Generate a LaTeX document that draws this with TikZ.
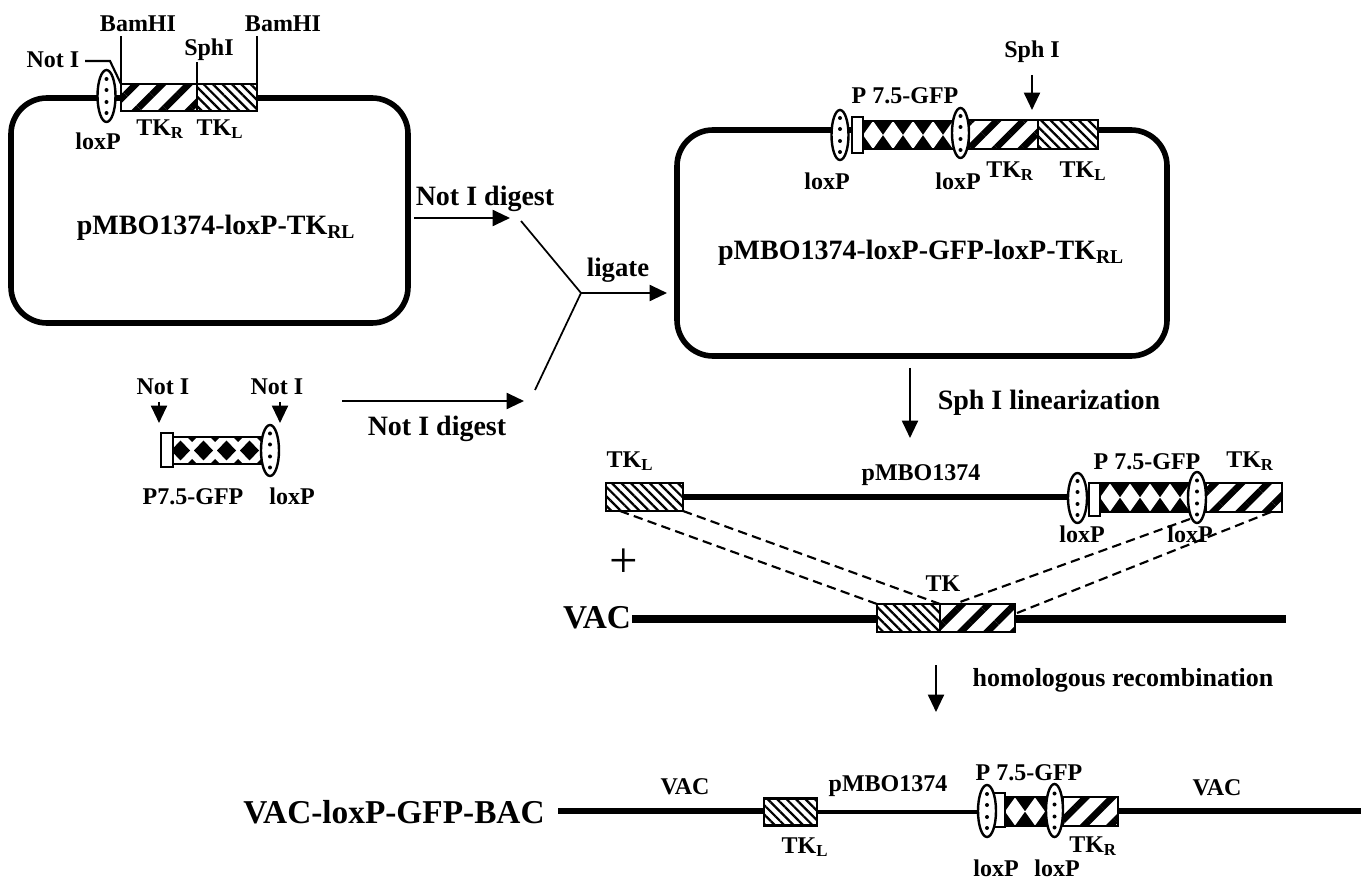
\documentclass[tikz,border=0pt]{standalone}
\usepackage{fontspec}
\setmainfont{Liberation Serif}
\usepackage{tikz}
\usetikzlibrary{arrows.meta,positioning,shapes.geometric,calc,patterns.meta}

\begin{document}
\begin{tikzpicture}[
  x=0.75pt, y=-0.75pt,
  sz/.style 2 args={minimum width=#1*0.75pt, minimum height=#2*0.75pt},
  lbl/.style={inner sep=0pt, yshift=-1pt, font=\bfseries\fontsize{18}{20}\selectfont},
  title/.style={inner sep=0pt, yshift=-2pt, font=\bfseries\fontsize{21}{24}\selectfont},
  big/.style={inner sep=0pt, font=\bfseries\fontsize{25}{28}\selectfont},
  plasmid/.style={rectangle, draw, line width=4.2pt, rounded corners=27pt, inner sep=0pt, outer sep=0pt},
  gene/.style={rectangle, draw, line width=2.2pt, inner sep=0pt, outer sep=0pt, anchor=west},
  tkr/.style={gene, preaction={fill=white}, pattern={Lines[angle=45,distance=14pt,line width=5pt]}},
  tkl/.style={gene, preaction={fill=white}, pattern={Lines[angle=-45,distance=5pt,line width=1.7pt]}},
  prom/.style={gene, fill=white, line width=1.6pt},
  loxp/.style={ellipse, draw, line width=1.8pt, fill=white, inner sep=0pt, outer sep=0pt,
    path picture={\foreach \d in {-17,-6,6,17}
      \fill[black] ($(path picture bounding box.center)+(0,\d)$) circle (2);}},
  gfp/.style 2 args={gene, fill=black,
    path picture={\foreach \k in {0,...,9}
      \fill[white] ($(path picture bounding box.west)+(#1/2+\k*#1,0)$)
        +(-#1/2,0) -- +(0,-#2) -- +(#1/2,0) -- +(0,#2) -- cycle;}},
  gfpdot/.style={gene, fill=white,
    path picture={\foreach \k in {0,...,4}{
      \fill[black] ($(path picture bounding box.west)+(11.5+\k*23-4,0)$)
        +(-9.5,0) -- +(0,-10) -- +(9.5,0) -- +(0,10) -- cycle;
      \fill[black] ($(path picture bounding box.north west)+(23+\k*23-4,0)$)
        +(-5,0) -- +(0,5) -- +(5,0) -- cycle;
      \fill[black] ($(path picture bounding box.south west)+(23+\k*23-4,0)$)
        +(-5,0) -- +(0,-5) -- +(5,0) -- cycle;}}},
  dna/.style={line width=5pt},
  site/.style={line width=1.6pt},
  wire/.style={line width=1.3pt},
  arrow/.style={-{Triangle[length=13pt,width=12pt]}, line width=1.5pt},
  homology/.style={dash pattern=on 7pt off 4pt, line width=1.6pt}
]
\useasboundingbox (0,0) rectangle (1361,880);

% pMBO1374-loxP-TKRL
\node[plasmid, sz={397}{225}] (plasA) at (209.5,210.5) {};
\node[tkr, sz={76}{27}] (tkRa) at (121,97.5) {};
\node[tkl, sz={60}{27}] (tkLa) at (197,97.5) {};
\node[loxp, sz={18}{52}] (loxA) at (106.5,96) {};
\coordinate (bamA) at (121,36);
\coordinate (bamB) at (257,36);
\coordinate (sphA) at (197,62);
\coordinate (notA) at (85,61);
\coordinate (notB) at (110,61);
\draw[site] (tkRa.north west) -- (bamA);
\draw[site] (tkLa.north east) -- (bamB);
\draw[site] (tkLa.north west) -- (sphA);
\draw[site] (tkRa.north west) -- (notB) -- (notA);
\node[lbl] (bamAl) at (138,22) {BamHI};
\node[lbl] (bamBl) at (283,22) {BamHI};
\node[lbl] (sphAl) at (209,48) {SphI};
\node[lbl] (notAl) at (53,58) {Not I};
\node[lbl] (loxAl) at (98,140) {loxP};
\node[lbl] (tkRal) at (160,128) {TK\textsubscript{R}};
\node[lbl] (tkLal) at (220,128) {TK\textsubscript{L}};
\node[title] (plasAl) at (216,225) {pMBO1374-loxP-TK\textsubscript{RL}};

% P7.5-GFP fragment
\node[gfpdot, sz={90}{27}] (gfpF) at (173,450.5) {};
\node[prom, sz={12}{34}] (promF) at (161,450) {};
\node[loxp, sz={18}{51}] (loxF) at (270,450.5) {};
\coordinate (notFa) at (159,402);
\coordinate (notFb) at (159,423);
\coordinate (notFc) at (280,402);
\coordinate (notFd) at (280,423);
\draw[arrow] (notFa) -- (notFb);
\draw[arrow] (notFc) -- (notFd);
\node[lbl] (notFal) at (163,385) {Not I};
\node[lbl] (notFcl) at (277,385) {Not I};
\node[lbl] (gfpFl) at (193,495) {P7.5-GFP};
\node[lbl] (loxFl) at (292,495) {loxP};

% digest and ligation
\coordinate (digA) at (414,218);
\coordinate (digB) at (510,218);
\coordinate (digC) at (342,401);
\coordinate (digD) at (524,401);
\coordinate (armA) at (521,221);
\coordinate (armB) at (535,390);
\coordinate (join) at (581,293);
\coordinate (ligate) at (667,293);
\draw[arrow] (digA) -- (digB);
\draw[arrow] (digC) -- (digD);
\draw[wire] (armA) -- (join) -- (armB);
\draw[arrow] (join) -- (ligate);
\node[title] (digAl) at (485,196) {Not I digest};
\node[title] (digCl) at (437,426) {Not I digest};
\node[title, font=\bfseries\fontsize{20}{22}\selectfont] (ligatel) at (618,268) {ligate};

% pMBO1374-loxP-GFP-loxP-TKRL
\node[plasmid, sz={490}{226}] (plasB) at (922,243) {};
\node[gfp={20}{14}, sz={97}{28}] (gfpB) at (863,135) {};
\node[prom, sz={11}{36}] (promB) at (852,135) {};
\node[tkr, sz={69}{29}] (tkRb) at (969,134.5) {};
\node[tkl, sz={60}{29}] (tkLb) at (1038,134.5) {};
\node[loxp, sz={17}{50}] (loxBa) at (840,135) {};
\node[loxp, sz={17}{50}] (loxBb) at (960.5,133) {};
\coordinate (sphB) at (1032,75);
\coordinate (sphC) at (1032,110);
\draw[arrow] (sphB) -- (sphC);
\node[lbl] (sphBl) at (1032,50) {Sph I};
\node[lbl] (gfpBl) at (905,94) {P 7.5-GFP};
\node[lbl] (loxBal) at (827,180) {loxP};
\node[lbl] (loxBbl) at (958,180) {loxP};
\node[lbl] (tkRbl) at (1010,170) {TK\textsubscript{R}};
\node[lbl] (tkLbl) at (1083,170) {TK\textsubscript{L}};
\node[title] (plasBl) at (921,250) {pMBO1374-loxP-GFP-loxP-TK\textsubscript{RL}};

\coordinate (linA) at (910,368);
\coordinate (linB) at (910,438);
\draw[arrow] (linA) -- (linB);
\node[title] (linl) at (1049,400) {Sph I linearization};

% linear construct
\node[tkl, sz={77}{28}] (tkLc) at (606,497) {};
\node[gfp={20}{14}, sz={90}{29}] (gfpC) at (1100,497.5) {};
\node[tkr, sz={76}{29}] (tkRc) at (1206,497.5) {};
\node[prom, sz={11}{33}] (promC) at (1089,499.5) {};
\node[loxp, sz={19}{50}] (loxCa) at (1077.5,498) {};
\node[loxp, sz={18}{51}] (loxCb) at (1197,497.5) {};
\draw[dna] (tkLc.east) -- (tkLc.east -| loxCa.west);
\node[lbl] (tkLcl) at (630,460) {TK\textsubscript{L}};
\node[lbl] (pmbCl) at (921,474) {pMBO1374};
\node[lbl] (gfpCl) at (1147,460) {P 7.5-GFP};
\node[lbl] (tkRcl) at (1250,460) {TK\textsubscript{R}};
\node[lbl] (loxCal) at (1082,533) {loxP};
\node[lbl] (loxCbl) at (1190,533) {loxP};
\node[inner sep=0pt, font=\fontsize{38}{40}\selectfont] (plus) at (624,563) {+};

% VAC
\coordinate (vacA) at (632,618.5);
\coordinate (vacB) at (1286,618.5);
\draw[dna, line width=6pt] (vacA) -- (vacB);
\node[tkl, sz={63}{28}] (tkLd) at (877,618) {};
\node[tkr, sz={75}{28}] (tkRd) at (940,618) {};
\node[big] (vacl) at (597,618) {VAC};
\node[lbl] (tkdl) at (943,582) {TK};
\coordinate (dashA) at (1271,512);
\coordinate (dashB) at (1190,519);
\coordinate (dashC) at (1017,613);
\coordinate (dashD) at (960,602);
\coordinate (dashE) at (620,511);
\draw[homology] (dashE) -- (tkLd.north west);
\draw[homology] (tkLc.south east) -- (tkLd.north east);
\draw[homology] (dashA) -- (dashC);
\draw[homology] (dashB) -- (dashD);

\coordinate (recA) at (936,665);
\coordinate (recB) at (936,712);
\draw[arrow] (recA) -- (recB);
\node[lbl, font=\bfseries\fontsize{19.5}{22}\selectfont] (recl) at (1123,679) {homologous recombination};

% VAC-loxP-GFP-BAC
\coordinate (vacC) at (558,811);
\coordinate (vacD) at (1361,811);
\node[tkl, sz={53}{27}] (tkLe) at (764,812) {};
\node[gfp={20}{14}, sz={42}{29}] (gfpE) at (1005,811.5) {};
\node[tkr, sz={55}{29}] (tkRe) at (1063,811.5) {};
\node[prom, sz={12}{34}] (promE) at (993,810) {};
\node[loxp, sz={18}{52}] (loxEa) at (987,811) {};
\node[loxp, sz={17}{53}] (loxEb) at (1054.5,810.5) {};
\draw[dna] (vacC) -- (vacC -| tkLe.west);
\draw[dna, line width=3.5pt] (tkLe.east) -- (tkLe.east -| loxEa.west);
\draw[dna] (vacC -| tkRe.east) -- (vacD);
\node[big] (bacl) at (394,812) {VAC-loxP-GFP-BAC};
\node[lbl] (vacEl) at (685,785) {VAC};
\node[lbl] (pmbEl) at (888,785) {pMBO1374};
\node[lbl] (gfpEl) at (1029,771) {P 7.5-GFP};
\node[lbl] (vacFl) at (1217,786) {VAC};
\node[lbl] (tkLel) at (805,846) {TK\textsubscript{L}};
\node[lbl] (tkRel) at (1093,845) {TK\textsubscript{R}};
\node[lbl] (loxEal) at (996,867) {loxP};
\node[lbl] (loxEbl) at (1057,867) {loxP};

\end{tikzpicture}
\end{document}
